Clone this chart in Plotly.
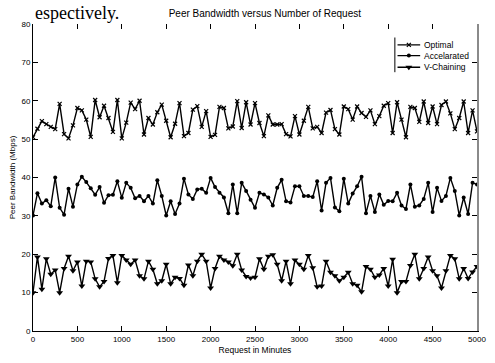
import plotly.graph_objects as go

minutes = list(range(0, 5001, 50))

optimal = [50.5, 52.7, 54.7, 53.9, 53.2, 52.6, 59.2, 51.3, 50.2, 53.6,
           58.1, 57.5, 55.1, 50.6, 60.2, 55.7, 58.7, 55.5, 51.9, 60.2,
           50.2, 54.3, 59.5, 57.8, 60.0, 51.2, 55.5, 53.8, 57.0, 59.0,
           54.8, 50.5, 54.0, 59.4, 50.8, 51.6, 57.7, 58.6, 53.2, 57.3,
           50.6, 51.1, 58.4, 58.1, 52.8, 53.3, 59.9, 52.9, 59.6, 53.8,
           59.4, 54.2, 50.8, 56.2, 53.8, 53.8, 53.9, 51.3, 50.7, 56.0,
           51.2, 54.8, 58.4, 52.8, 53.2, 51.6, 56.9, 57.6, 52.6, 51.2,
           58.5, 57.8, 55.1, 58.5, 56.8, 55.8, 57.5, 53.9, 56.0, 58.7,
           59.4, 51.6, 59.6, 55.1, 50.5, 58.4, 58.1, 54.5, 59.8, 54.2,
           58.5, 53.9, 58.9, 59.8, 56.7, 52.6, 55.5, 59.8, 51.6, 57.5,
           52.0]

accelerated = [30.1, 35.9, 33.2, 34.1, 32.5, 40.0, 32.1, 30.3, 37.1, 32.4,
               38.2, 40.2, 38.8, 37.2, 35.5, 37.5, 33.4, 35.4, 35.5, 39.0,
               34.7, 38.6, 37.3, 34.6, 35.2, 33.8, 35.2, 33.2, 39.3, 35.2,
               30.1, 33.8, 30.5, 33.2, 39.7, 35.6, 34.4, 36.9, 37.1, 36.0,
               39.9, 37.5, 36.0, 34.8, 30.7, 38.2, 30.7, 38.6, 36.5, 34.2,
               32.1, 36.0, 35.6, 34.8, 32.7, 37.3, 39.4, 33.8, 33.5, 37.7,
               37.7, 35.2, 35.2, 34.9, 39.0, 31.4, 38.6, 39.9, 32.2, 31.2,
               39.7, 33.2, 35.8, 37.7, 40.2, 30.7, 35.2, 31.0, 35.6, 32.9,
               33.9, 33.8, 36.0, 32.7, 31.8, 38.2, 32.4, 32.7, 34.4, 38.6,
               31.0, 37.3, 33.9, 35.2, 39.9, 36.5, 30.1, 34.8, 30.5, 38.6,
               38.2]

vchaining = [10.0, 19.3, 10.9, 18.8, 14.8, 15.9, 10.0, 16.3, 19.5, 15.7,
             18.0, 11.7, 18.2, 18.0, 13.6, 11.5, 12.9, 18.9, 19.7, 12.6,
             19.7, 18.5, 17.4, 18.5, 14.4, 13.6, 18.2, 16.1, 12.3, 13.1,
             17.4, 12.3, 14.0, 13.7, 11.9, 17.2, 14.4, 18.2, 20.0, 18.2,
             11.2, 16.3, 19.5, 18.5, 18.0, 17.0, 20.0, 15.9, 14.2, 13.8,
             14.0, 18.8, 16.1, 19.5, 19.9, 17.4, 13.1, 18.2, 12.3, 18.5,
             17.4, 16.1, 19.7, 16.5, 11.5, 11.7, 18.2, 15.3, 14.4, 13.1,
             14.0, 15.3, 12.3, 11.9, 10.2, 16.8, 16.1, 14.0, 14.6, 16.3,
             11.7, 18.7, 10.0, 12.9, 12.9, 17.1, 20.0, 13.6, 16.3, 19.3,
             15.7, 14.4, 11.2, 15.7, 19.7, 18.8, 13.6, 16.3, 13.7, 15.4,
             16.8]

series_names = ["Optimal", "Accelarated", "V-Chaining"]
x_ticks = [0, 500, 1000, 1500, 2000, 2500, 3000, 3500, 4000, 4500, 5000]
y_ticks = [0, 10, 20, 30, 40, 50, 60, 70, 80]

FONT = "Liberation Sans, Arial, sans-serif"

styles = [
    dict(symbol="x-thin", size=4, line=dict(width=1.2, color="black")),
    dict(symbol="circle", size=4, color="black"),
    dict(symbol="triangle-down", size=6, color="black"),
]

fig = go.Figure()
for name, vals, mk in zip(series_names, [optimal, accelerated, vchaining], styles):
    fig.add_trace(go.Scatter(
        x=minutes, y=vals, name=name, mode="lines+markers",
        line=dict(color="black", width=1.4), marker=mk, showlegend=False,
    ))

# top ticks without top line
fig.add_trace(go.Scatter(x=[None], y=[None], xaxis="x2", showlegend=False))
# right axis with grey line
fig.add_trace(go.Scatter(x=[None], y=[None], yaxis="y2", showlegend=False))

# compact legend (MATLAB-like), drawn in a small inset axis
LEG_X0, LEG_X1 = 0.821, 0.872
LEG_ROWS = [0.932, 0.897, 0.859]
for name, mk, ry in zip(series_names, styles, LEG_ROWS):
    fig.add_trace(go.Scatter(
        x=[LEG_X0, LEG_X1], y=[ry, ry], mode="lines",
        line=dict(color="black", width=1.4),
        xaxis="x3", yaxis="y3", showlegend=False, hoverinfo="skip"))
    fig.add_trace(go.Scatter(
        x=[(LEG_X0 + LEG_X1) / 2], y=[ry], mode="markers", marker=mk,
        xaxis="x3", yaxis="y3", showlegend=False, hoverinfo="skip"))
    fig.add_annotation(text=name, xref="paper", yref="paper",
                       x=LEG_X1 + 0.005, y=ry, xanchor="left", yanchor="middle",
                       showarrow=False,
                       font=dict(family=FONT, size=8.5, color="black"))

fig.update_layout(
    width=495, height=363,
    margin=dict(l=33, r=9, t=24, b=24),
    paper_bgcolor="white", plot_bgcolor="white",
    font=dict(family=FONT, size=8, color="black"),
    title=dict(text="Peer Bandwidth versus Number of Request",
               x=0.535, xanchor="center", y=0.962, yanchor="middle",
               font=dict(family=FONT, size=10, color="black")),
    xaxis=dict(range=[0, 5000], tickvals=x_ticks,
               ticks="inside", ticklen=5, tickcolor="black",
               showline=True, linecolor="black", linewidth=1,
               showgrid=False, zeroline=False,
               tickfont=dict(size=8), ticklabeloverflow="allow",
               title=dict(text="Request in Minutes", standoff=4,
                          font=dict(size=8.5))),
    xaxis2=dict(range=[0, 5000], tickvals=x_ticks, overlaying="x", side="top",
                ticks="inside", ticklen=5, tickcolor="black",
                showline=False, showgrid=False, zeroline=False,
                showticklabels=False),
    yaxis=dict(range=[0, 80], tickvals=y_ticks,
               ticks="inside", ticklen=5, tickcolor="black",
               showline=True, linecolor="black", linewidth=1,
               showgrid=False, zeroline=False,
               tickfont=dict(size=8),
               title=dict(text="Peer Bandwidth (Mbps)", standoff=4,
                          font=dict(size=8))),
    yaxis2=dict(range=[0, 80], tickvals=y_ticks, overlaying="y", side="right",
                ticks="inside", ticklen=5, tickcolor="black",
                showline=True, linecolor="#8a8a8a", linewidth=1.5,
                showgrid=False, zeroline=False, showticklabels=False),
    xaxis3=dict(domain=[0.80, 0.90], range=[0.80, 0.90], visible=False,
                fixedrange=True),
    yaxis3=dict(domain=[0.83, 0.96], range=[0.83, 0.96], visible=False,
                fixedrange=True, anchor="x3"),
    showlegend=False,
)
fig.update_traces(selector=dict(xaxis="x3"), yaxis="y3")

fig.add_shape(type="line", xref="paper", yref="paper",
              x0=0.815, x1=0.815, y0=0.843, y1=0.956,
              line=dict(color="black", width=1))

# fragment of the surrounding page text visible at the top-left of the scan
fig.add_annotation(text="espectively.", xref="paper", yref="paper",
                   x=0.0, y=1.074, xanchor="left", yanchor="top",
                   showarrow=False,
                   font=dict(family="Liberation Serif, Times New Roman, serif",
                             size=18, color="black"))

fig.write_html("out.html")
